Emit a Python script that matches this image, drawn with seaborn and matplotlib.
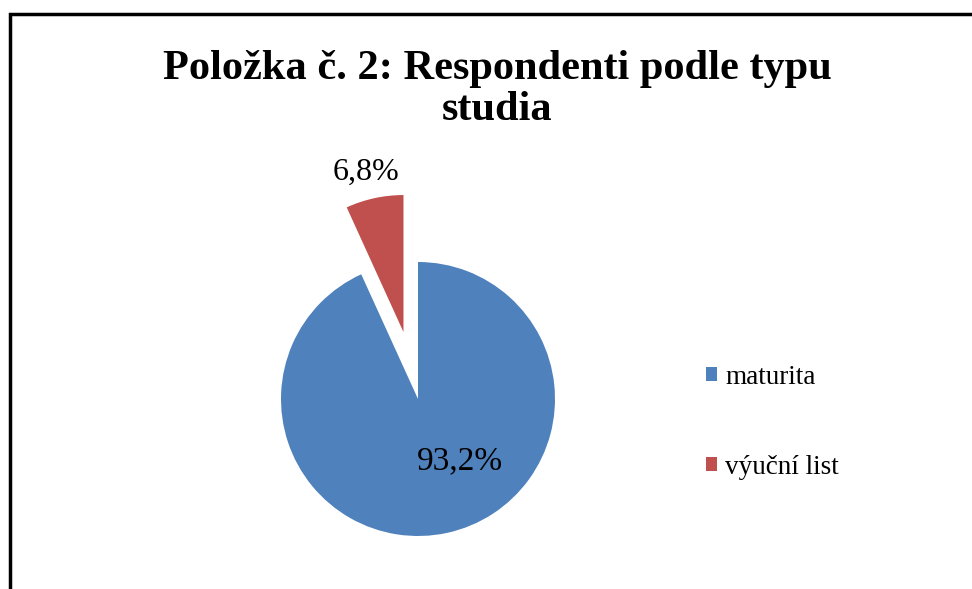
import matplotlib
matplotlib.use("Agg")
import matplotlib.pyplot as plt
from matplotlib.patches import Rectangle, Patch
import seaborn as sns

categories = ["maturita", "výuční list"]
shares = [93.2, 6.8]
share_labels = ["93,2%", "6,8%"]
title = "Položka č. 2: Respondenti podle typu\nstudia"

sns.set_theme(style="white")
plt.rcParams["font.family"] = ["Liberation Serif", "DejaVu Serif"]
plt.rcParams["text.color"] = "black"

colors = ["#4F81BD", "#C0504D"]

fig = plt.figure(figsize=(9.72, 5.89), dpi=100)
W, H = 972, 589

# pie centred at (418, 399) px with radius 137 px; axes limits +-2
R = 137
cx, cy = 418, 399
side = 4 * R
ax = fig.add_axes([(cx - side / 2) / W, (H - (cy + side / 2)) / H, side / W, side / H])
wedges, _ = ax.pie(shares, colors=colors, startangle=90, counterclock=False,
                   explode=[0, 0.5], radius=1, wedgeprops=dict(linewidth=0))
ax.set_xlim(-2, 2)
ax.set_ylim(-2, 2)
ax.set_aspect("equal")
ax.axis("off")

# value labels
ax.text(42 / R, -62 / R, share_labels[0], ha="center", va="center", fontsize=24, color="black")
ax.text((366 - cx) / R, (cy - 172) / R, share_labels[1], ha="center", va="center", fontsize=23,
        color="black")

fig.text(497 / W, 1 - 89.5 / H, title, ha="center", va="center", color="black",
         fontsize=30.5, fontweight="bold", linespacing=1.12)

handles = [Patch(facecolor=c, edgecolor="none") for c in colors]
leg = fig.legend(handles, categories, loc="center left", bbox_to_anchor=(682 / W, 1 - 422 / H),
                 frameon=False, fontsize=19.5, handlelength=0.4, handleheight=0.4,
                 handletextpad=0.3, labelspacing=2.4)
for t in leg.get_texts():
    t.set_color("black")

# chart border (only left and top visible in the crop)
fig.patches.append(Rectangle((10 / W, -0.1), 1.2, 1 - 14 / H + 0.1, transform=fig.transFigure,
                             fill=False, edgecolor="black", linewidth=2.5))

fig.savefig("out.png", dpi=100)
